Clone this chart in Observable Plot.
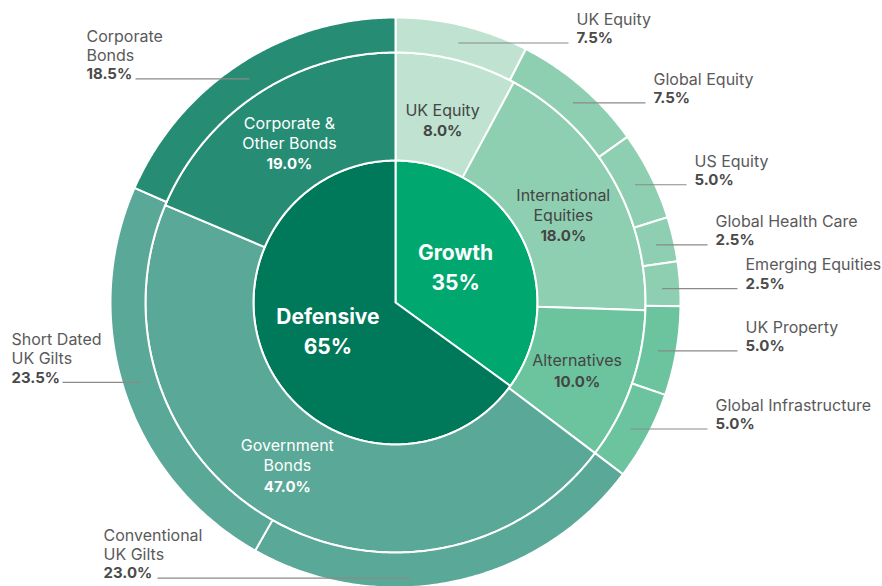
<!DOCTYPE html>
<html><head><meta charset="utf-8">
<script src="https://cdn.jsdelivr.net/npm/d3@7"></script>
<script src="https://cdn.jsdelivr.net/npm/@observablehq/plot@0.6"></script>
<style>body{margin:0;background:#fff;} #chart svg{display:block;}</style>
</head><body><div id="chart"></div>
<script>
// ---------- DATA ----------
const innerNames = ["Growth", "Defensive"];
const innerValues = [35, 65];

const middleNames = ["UK Equity", "International\nEquities", "Alternatives", "Government\nBonds", "Corporate &\nOther Bonds"];
const middleValues = [8.0, 18.0, 10.0, 47.0, 19.0];
const middleGroup = ["Growth", "Growth", "Growth", "Defensive", "Defensive"];

const outerNames = ["UK Equity", "Global Equity", "US Equity", "Global Health Care", "Emerging Equities",
  "UK Property", "Global Infrastructure", "Conventional\nUK Gilts", "Short Dated\nUK Gilts", "Corporate\nBonds"];
const outerValues = [7.5, 7.5, 5.0, 2.5, 2.5, 5.0, 5.0, 23.0, 23.5, 18.5];
const outerParent = ["UK Equity", "International Equities", "International Equities", "International Equities",
  "International Equities", "Alternatives", "Alternatives", "Government Bonds", "Government Bonds", "Corporate & Other Bonds"];

// ---------- STYLE / LAYOUT ----------
const innerColors = {"Growth": "#00A870", "Defensive": "#00785A"};
const middleColors = {
  "UK Equity": "#BFE2D1", "International Equities": "#8ECFB1", "Alternatives": "#6BC49D",
  "Government Bonds": "#5AA897", "Corporate & Other Bonds": "#278C74"
};
const R0 = 142, R1 = 250, R2 = 285, RL = 267;
// leader layout for outer labels: far end x (pixels from centre), side, text x for left side, optional anchor override
const leaderLayout = [
  {far: 173, side: "r"}, {far: 250, side: "r", nudge: 0.8}, {far: 291, side: "r", nudge: 0.3}, {far: 312, side: "r", nudge: 0.4},
  {far: 342, side: "r", nudge: 0.8}, {far: 342, side: "r", nudge: 0.6}, {far: 312, side: "r", nudge: 0.3},
  {far: -238, side: "l", textX: -292, angle: 177, r: 276},
  {far: -333, side: "l", textX: -384, nudge: 1.0},
  {far: -260, side: "l", textX: -309}
];
const innerLabelLayout = [{r: 69, nudge: -2.5}, {r: 74, nudge: 3}];
const middleLabelLayout = [{r: 188, nudge: 0.4}, {r: 189, nudge: 2.6}, {r: 194, nudge: 1.2}, {r: 196, nudge: 3.5}, {r: 191, nudge: -0.2}];

// ---------- GEOMETRY ----------
const rad = d => d * Math.PI / 180;
const px = (a, r) => r * Math.sin(rad(a));
const py = (a, r) => -r * Math.cos(rad(a));
const key = s => s.replace("\n", " ");

function spans(values, start, extent) {
  const total = d3.sum(values);
  let acc = start;
  return values.map(v => { const a0 = acc; acc += v / total * extent; return [a0, acc]; });
}
function poly(id, a0, a1, r0, r1, color) {
  const n = Math.max(2, Math.ceil((a1 - a0) / 0.5) + 1);
  const pts = [];
  for (let i = 0; i < n; i++) { const a = a0 + (a1 - a0) * i / (n - 1); pts.push({id, color, x: px(a, r1), y: py(a, r1)}); }
  if (r0 === 0) pts.push({id, color, x: 0, y: 0});
  else for (let i = n - 1; i >= 0; i--) { const a = a0 + (a1 - a0) * i / (n - 1); pts.push({id, color, x: px(a, r0), y: py(a, r0)}); }
  return pts;
}

const innerSpans = spans(innerValues, 0, 360);
const middleSpans = spans(middleValues, 0, 360);
const groupExtent = {};
middleGroup.forEach((g, i) => {
  const e = groupExtent[g] || [Infinity, -Infinity];
  groupExtent[g] = [Math.min(e[0], middleSpans[i][0]), Math.max(e[1], middleSpans[i][1])];
});
const middleKeys = middleNames.map(key);
const outerGroup = outerParent.map(p => middleGroup[middleKeys.indexOf(p)]);
const outerSpans = new Array(outerValues.length);
innerNames.forEach(g => {
  const idx = outerValues.map((v, i) => i).filter(i => outerGroup[i] === g);
  const [s, e] = groupExtent[g];
  const sp = spans(idx.map(i => outerValues[i]), s, e - s);
  idx.forEach((i, k) => outerSpans[i] = sp[k]);
});

const polys = [];
innerSpans.forEach(([a0, a1], i) => polys.push(...poly("i" + i, a0, a1, 0, R0, innerColors[innerNames[i]])));
middleSpans.forEach(([a0, a1], i) => polys.push(...poly("m" + i, a0, a1, R0, R1, middleColors[middleKeys[i]])));
outerSpans.forEach(([a0, a1], i) => polys.push(...poly("o" + i, a0, a1, R1, R2, middleColors[outerParent[i]])));

// ---------- LABELS ----------
const bigRows = [];
innerSpans.forEach(([a0, a1], i) => {
  const L = innerLabelLayout[i], a = (a0 + a1) / 2 + L.nudge;
  const x = px(a, L.r), y = py(a, L.r);
  bigRows.push({x, y: y - 15, text: innerNames[i]}, {x, y: y + 15, text: innerValues[i] + "%"});
});
const inNameRows = [], inPctRows = [];
middleSpans.forEach(([a0, a1], i) => {
  const L = middleLabelLayout[i];
  const a = (a0 + a1) / 2 + L.nudge, x = px(a, L.r), y = py(a, L.r);
  const lines = middleNames[i].split("\n");
  const n = lines.length + 1, lh = 20;
  const color = middleGroup[i] === "Growth" ? "#454545" : "#ffffff";
  lines.forEach((t, k) => inNameRows.push({x, y: y - (n - 1) / 2 * lh + k * lh, text: t, color}));
  inPctRows.push({x, y: y - (n - 1) / 2 * lh + lines.length * lh + 1, text: middleValues[i].toFixed(1) + "%", color});
});
const leaders = [], exNameRows = [], exPctRows = [];
outerSpans.forEach(([a0, a1], i) => {
  const L = leaderLayout[i];
  const a = L.angle != null ? L.angle : (a0 + a1) / 2 + (L.nudge || 0);
  const r = L.r || RL;
  const ax = px(a, r), ay = py(a, r);
  leaders.push({x1: ax, y1: ay, x2: L.far, y2: ay});
  const tx = L.side === "r" ? L.far + 8 : L.textX;
  const lines = outerNames[i].split("\n");
  const lh = 18.8;
  lines.forEach((t, k) => exNameRows.push({x: tx, y: ay - 4.5 - (lines.length - k) * lh, text: t}));
  exPctRows.push({x: tx, y: ay - 4.5, text: outerValues[i].toFixed(1) + "%"});
});

const font = "Inter, 'Noto Sans', sans-serif";
const chart = Plot.plot({
  width: 882, height: 586, margin: 0,
  style: {fontFamily: font, background: "#fff"},
  x: {domain: [-395, 487], range: [0, 882], axis: null},
  y: {domain: [-302, 284], range: [0, 586], axis: null},
  color: {type: "identity"},
  marks: [
    Plot.line(polys, {x: "x", y: "y", z: "id", fill: "color", stroke: "#fff", strokeWidth: 2, curve: "linear-closed", strokeLinejoin: "round"}),
    Plot.link(leaders, {x1: "x1", y1: "y1", x2: "x2", y2: "y2", stroke: "#8a8a8a", strokeWidth: 1.2}),
    Plot.text(bigRows, {x: "x", y: "y", text: "text", fill: "#fff", fontSize: 21, fontWeight: 700, fontFamily: font}),
    Plot.text(inNameRows, {x: "x", y: "y", text: "text", fill: "color", fontSize: 16, fontFamily: font}),
    Plot.text(inPctRows, {x: "x", y: "y", text: "text", fill: "color", fontSize: 15, fontWeight: 700, fontFamily: font}),
    Plot.text(exNameRows, {x: "x", y: "y", text: "text", fill: "#5a5a5a", fontSize: 16, textAnchor: "start", fontFamily: font}),
    Plot.text(exPctRows, {x: "x", y: "y", text: "text", fill: "#4a4a4a", fontSize: 15, fontWeight: 700, textAnchor: "start", fontFamily: font})
  ]
});
document.getElementById("chart").appendChild(chart);
</script>
</body></html>
